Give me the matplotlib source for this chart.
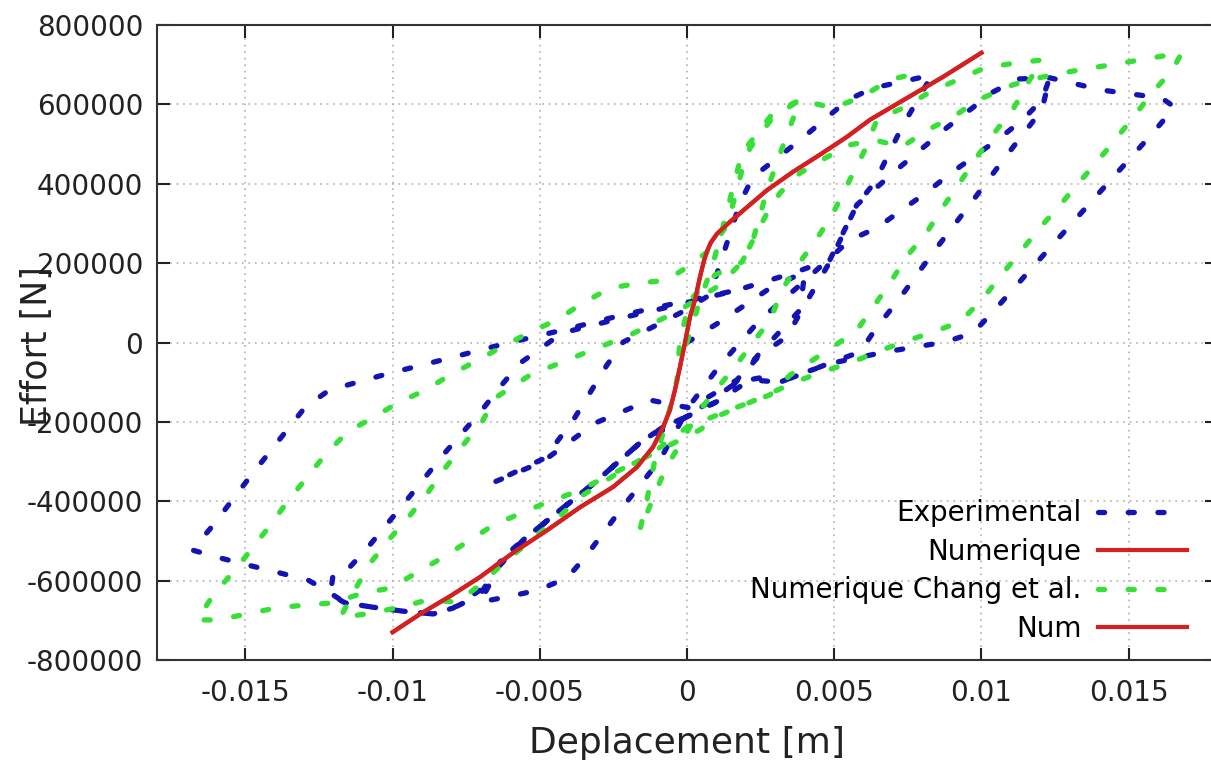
import matplotlib
matplotlib.use("Agg")
import matplotlib.pyplot as plt

plt.rcParams["font.family"] = "DejaVu Sans"
plt.rcParams["axes.unicode_minus"] = False
plt.rcParams["lines.scale_dashes"] = False

# Experimental loops (displacement [m], force [N])
exp_x = [
    0.0, 0.00112, 0.00282, 0.00400,
    0.00384, 0.00248, 0.00170, 0.00010, -0.00126, -0.00312, -0.00492, -0.00662,
    -0.00482, -0.00380, -0.00272, -0.00217, -0.00024, 0.00078,
    0.00139, 0.00180, 0.00224, 0.00384, 0.00546, 0.00631, 0.00832,
    0.00730, 0.00638, 0.00577, 0.00485, 0.00390, 0.00339, 0.00248, 0.00112, 0.00010,
    -0.00081, -0.00160, -0.00312, -0.00472, -0.00557, -0.00635, -0.00703,
    -0.00611, -0.00506, -0.00407, -0.00346, -0.00221, -0.00092, 0.00010, 0.00112,
    0.00248, 0.00384, 0.00553, 0.00645, 0.00815, 0.00893, 0.01062, 0.01140,
    0.01205, 0.01232,
    0.01205, 0.01079, 0.00960, 0.00835, 0.00713, 0.00648, 0.00587, 0.00485,
    0.00316, 0.00214, 0.00112, 0.00010, -0.00160, -0.00312, -0.00472, -0.00635,
    -0.00703, -0.00794, -0.00862, -0.00964, -0.01066, -0.01161, -0.01212,
    -0.01201, -0.01154, -0.01086, -0.00957, -0.00828, -0.00696, -0.00635, -0.00567,
    -0.00424, -0.00221, -0.00031, 0.00170, 0.00360, 0.00485, 0.00577, 0.00723,
    0.00882, 0.01039, 0.01123, 0.01232, 0.01409, 0.01612, 0.01656,
    0.01582, 0.01378, 0.01174, 0.01039, 0.00971, 0.00876, 0.00672, 0.00492,
    0.00394, 0.00316, 0.00248, 0.00170, 0.00010, -0.00081, -0.00160, -0.00238,
    -0.00312, -0.00397, -0.00472, -0.00557, -0.00635, -0.00703, -0.00794,
    -0.00862, -0.00964, -0.01066, -0.01161, -0.01212, -0.01286, -0.01381,
    -0.01490, -0.01585, -0.01680,
    -0.01609, -0.01487, -0.01358, -0.01297, -0.01215, -0.01018, -0.00821,
    -0.00624, -0.00424, -0.00221, -0.00031, 0.00170,
]
exp_f = [
    0, 52000, 137000, 178000,
    82000, -26000, -94000, -165000, -145000, -203000, -301000, -354000,
    -291000, -188000, -57000, 1000, 74000, 120000,
    258000, 352000, 417000, 510000, 611000, 641000, 674000,
    543000, 404000, 347000, 203000, 82000, 14000, -31000, -145000, -183000,
    -213000, -253000, -352000, -447000, -498000, -561000, -654000,
    -641000, -624000, -593000, -541000, -417000, -296000, -158000, -57000,
    57000, 145000, 258000, 289000, 379000, 425000, 515000, 561000,
    611000, 667000,
    586000, 465000, 347000, 226000, 102000, 42000, -24000, -52000,
    -100000, -94000, -145000, -183000, -253000, -352000, -447000, -553000,
    -636000, -669000, -684000, -677000, -667000, -656000, -636000,
    -581000, -573000, -518000, -402000, -283000, -170000, -112000, -52000,
    24000, 62000, 95000, 132000, 175000, 208000, 347000, 442000,
    541000, 631000, 664000, 667000, 636000, 616000, 593000,
    528000, 359000, 190000, 77000, 24000, 1000, -24000, -52000,
    -77000, -100000, -89000, -100000, -183000, -213000, -253000, -304000,
    -352000, -402000, -447000, -498000, -548000, -624000, -669000,
    -684000, -677000, -667000, -656000, -631000, -599000, -581000,
    -561000, -543000, -523000,
    -460000, -341000, -220000, -163000, -120000, -79000, -42000,
    -4000, 31000, 69000, 100000, 132000,
]

# Numerical backbone curve
num_x = [
    -0.0100, -0.00906, -0.00804, -0.00703, -0.00591, -0.00475, -0.00363,
    -0.00251, -0.00170, -0.00115, -0.00081, -0.00058, -0.00041, -0.00024,
    -0.00007, 0.00010, 0.00027, 0.00044, 0.00058, 0.00068, 0.00081, 0.00102,
    0.00146, 0.00204, 0.00272, 0.00360, 0.00451, 0.00543, 0.00621, 0.00747,
    0.00869, 0.0100,
]
num_f = [
    -730000, -684000, -639000, -591000, -530000, -473000, -415000,
    -364000, -314000, -263000, -213000, -170000, -120000, -62000,
    -1000, 64000, 107000, 165000, 207000, 230000, 252000, 274000,
    304000, 341000, 384000, 430000, 473000, 518000, 561000, 616000,
    669000, 730000,
]

# Numerical loops from Chang et al.
chang_x = [
    0.0, 0.00044, 0.00085, 0.00122, 0.00163, 0.00187, 0.00292, 0.00384,
    0.00333, 0.00272, 0.00224, 0.00187, 0.00095, 0.00010, -0.00024, -0.00034,
    -0.00068, -0.00109, -0.00136, -0.00160,
    -0.00075, 0.00044, 0.00180, 0.00282, 0.00326, 0.00384, 0.00445, 0.00496,
    0.00553, 0.00604, 0.00645, 0.00733, 0.00825, 0.00920, 0.01011, 0.01113,
    0.01208,
    0.01164, 0.01106, 0.01052, 0.00984, 0.00933, 0.00869, 0.00815, 0.00750,
    0.00696, 0.00638, 0.00577, 0.00496, 0.00417, 0.00350, 0.00282, 0.00170,
    0.00078, 0.00010, -0.00058, -0.00126, -0.00204, -0.00272, -0.00363,
    -0.00421, -0.00489, -0.00557, -0.00624, -0.00703, -0.00781, -0.00882,
    -0.00974, -0.01076, -0.01178,
    -0.01134, -0.01076, -0.01008, -0.00940, -0.00879, -0.00821, -0.00760,
    -0.00696, -0.00652, -0.00533, -0.00363, -0.00193, -0.00024, 0.00112,
    0.00187, 0.00224, 0.00272, 0.00316, 0.00384, 0.00475, 0.00553, 0.00638,
    0.00730, 0.00818, 0.00903, 0.00988, 0.01106, 0.01164, 0.01273, 0.01375,
    0.01476, 0.01578, 0.01680,
    0.01649, 0.01582, 0.01521, 0.01459, 0.01392, 0.01324, 0.01259, 0.01191,
    0.01130, 0.01062, 0.01001, 0.00927, 0.00835, 0.00733, 0.00645, 0.00553,
    0.00458, 0.00360, 0.00248, 0.00112, 0.00044, -0.00092, -0.00227, -0.00363,
    -0.00499, -0.00658, -0.00737, -0.00828, -0.00913, -0.01008, -0.01100,
    -0.01201, -0.01303, -0.01398, -0.01493, -0.01595, -0.01663,
    -0.01609, -0.01541, -0.01476, -0.01415, -0.01358, -0.01290, -0.01229,
    -0.01154, -0.01069, -0.00981, -0.00889, -0.00798, -0.00709, -0.00624,
    -0.00533, -0.00441, -0.00353, -0.00261, -0.00160, -0.00068, 0.0,
    0.00078, 0.00136, 0.00163, 0.00187, 0.00214, 0.00292, 0.00384, 0.00496,
    0.00594, 0.00689, 0.00784,
]
chang_f = [
    0, 107000, 190000, 291000, 410000, 478000, 578000, 611000,
    510000, 384000, 258000, 203000, 170000, 107000, 6000, -95000,
    -195000, -296000, -397000, -473000,
    -321000, -170000, -44000, 57000, 137000, 203000, 266000, 326000,
    410000, 485000, 561000, 591000, 631000, 662000, 692000, 704000,
    712000,
    662000, 586000, 536000, 467000, 410000, 341000, 278000, 220000,
    158000, 95000, 31000, -11000, -49000, -82000, -132000, -163000,
    -190000, -208000, -246000, -283000, -314000, -346000, -389000,
    -430000, -473000, -515000, -556000, -611000, -654000, -649000,
    -667000, -682000, -694000,
    -631000, -556000, -493000, -435000, -377000, -316000, -258000,
    -200000, -140000, -82000, -31000, 19000, 82000, 145000,
    203000, 258000, 326000, 377000, 427000, 467000, 498000, 510000,
    493000, 536000, 568000, 611000, 649000, 662000, 679000, 692000,
    704000, 717000, 730000,
    687000, 631000, 573000, 515000, 455000, 397000, 339000, 283000,
    226000, 165000, 107000, 52000, 26000, 1000, -24000, -52000,
    -74000, -102000, -140000, -183000, -220000, -271000, -321000, -372000,
    -410000, -460000, -498000, -541000, -578000, -619000, -631000,
    -656000, -662000, -669000, -684000, -699000, -699000,
    -636000, -578000, -518000, -460000, -402000, -339000, -283000,
    -226000, -190000, -152000, -120000, -79000, -44000, -9000,
    26000, 57000, 100000, 137000, 150000, 157000, 190000,
    233000, 296000, 367000, 435000, 490000, 568000, 611000, 591000,
    619000, 662000, 679000,
]

x_ticks = [-0.015, -0.01, -0.005, 0, 0.005, 0.01, 0.015]
y_ticks = [-800000, -600000, -400000, -200000, 0, 200000, 400000, 600000, 800000]

W, H = 1211, 762
fig = plt.figure(figsize=(W / 100, H / 100), dpi=100)
ax = fig.add_axes([157 / W, 102 / H, (1217 - 157) / W, (660 - 25) / H])

dash_style = dict(linewidth=3.8, dashes=(4.4, 17.0), dash_capstyle="round")
ax.plot(exp_x, exp_f, color="#1414b4", label="Experimental", **dash_style)
ax.plot(num_x, num_f, color="#d42020", linewidth=3.0, label="Numerique")
ax.plot(chang_x, chang_f, color="#36e036", label="Numerique Chang et al.", **dash_style)
ax.plot(num_x, num_f, color="#d42020", linewidth=3.0, label="Num")

ax.set_xlim(-0.018, 0.018)
ax.set_ylim(-800000, 800000)
ax.set_xticks(x_ticks)
ax.set_xticklabels([f"{v:g}" for v in x_ticks])
ax.set_yticks(y_ticks)
ax.set_yticklabels([str(v) for v in y_ticks])
ax.tick_params(axis="both", direction="in", length=9, width=1.5, top=True,
               right=True, labelsize=20, colors="#222222")
ax.tick_params(axis="y", pad=10)
ax.tick_params(axis="x", pad=14)
ax.grid(True, color="#b0b0b0", linestyle=(0, (1.2, 3.5)), linewidth=1.2)
for spine in ax.spines.values():
    spine.set_linewidth(1.5)
    spine.set_color("#333333")

ax.set_xlabel("Deplacement [m]", fontsize=26, color="#222222")
ax.xaxis.set_label_coords(0.5, -0.104)
ax.set_ylabel("Effort [N]", fontsize=25, color="#222222")
ax.yaxis.set_label_coords(-0.097, 0.494)

ax.legend(loc="lower right", bbox_to_anchor=(1187 / W, (H - 643) / H),
          bbox_transform=fig.transFigure, frameon=False, markerfirst=False,
          fontsize=20, handlelength=3.2, handletextpad=0.6, labelspacing=0.38,
          borderpad=0, borderaxespad=0)

fig.savefig("out.png", dpi=100, facecolor="white")
